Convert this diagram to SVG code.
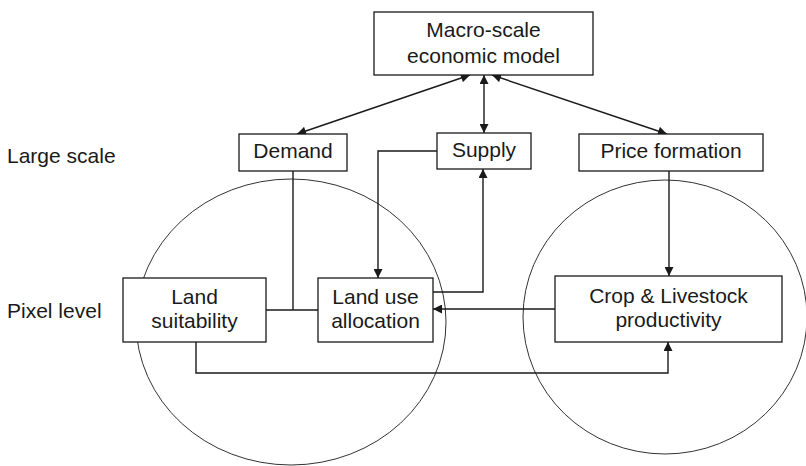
<svg xmlns="http://www.w3.org/2000/svg" width="806" height="466" viewBox="0 0 806 466">
<defs>
<marker id="ah" viewBox="0 0 10 10" refX="10" refY="5" markerWidth="10" markerHeight="9" markerUnits="userSpaceOnUse" orient="auto-start-reverse">
<path d="M0,0 L10,5 L0,10 z" fill="#1a1a1a"/>
</marker>
<style>
.box{fill:#fff;stroke:#1a1a1a;stroke-width:1.3}
.ring{fill:none;stroke:#333;stroke-width:1}
.ln{fill:none;stroke:#1a1a1a;stroke-width:1.4}
text{font-family:"Liberation Sans",Arial,sans-serif;font-size:21px;fill:#1a1a1a}
.c{text-anchor:middle}
</style>
</defs>
<rect width="806" height="466" fill="#fff"/>
<g id="zones">
<ellipse class="ring" cx="291" cy="322" rx="155" ry="143"/>
<ellipse class="ring" cx="665" cy="317" rx="142" ry="137"/>
</g>
<g id="labels">
<text x="7" y="163">Large scale</text>
<text x="7" y="318">Pixel level</text>
</g>
<g id="connectors">
<line class="ln" x1="470" y1="75" x2="297" y2="134" marker-start="url(#ah)" marker-end="url(#ah)"/>
<line class="ln" x1="484" y1="75" x2="484" y2="133" marker-start="url(#ah)" marker-end="url(#ah)"/>
<line class="ln" x1="492" y1="75" x2="667" y2="134" marker-start="url(#ah)" marker-end="url(#ah)"/>
<polyline class="ln" points="437,151 378,151 378,278" marker-end="url(#ah)"/>
<polyline class="ln" points="433,292 483,292 483,169" marker-end="url(#ah)"/>
<line class="ln" x1="293" y1="171" x2="293" y2="310"/>
<line class="ln" x1="266" y1="310" x2="318" y2="310"/>
<line class="ln" x1="555" y1="309" x2="433" y2="309" marker-end="url(#ah)"/>
<polyline class="ln" points="196,342 196,373 668,373 668,342" marker-end="url(#ah)"/>
<line class="ln" x1="669" y1="171" x2="669" y2="276" marker-end="url(#ah)"/>
</g>
<g id="macro">
<rect class="box" x="374" y="12" width="219" height="63"/>
<text class="c" x="483.5" y="37">Macro-scale</text>
<text class="c" x="483.5" y="63">economic model</text>
</g>
<g id="demand">
<rect class="box" x="239" y="134" width="108" height="37"/>
<text class="c" x="293" y="158">Demand</text>
</g>
<g id="supply">
<rect class="box" x="437" y="133" width="94" height="36"/>
<text class="c" x="484" y="157">Supply</text>
</g>
<g id="price">
<rect class="box" x="579" y="134" width="184" height="37"/>
<text class="c" x="671" y="158">Price formation</text>
</g>
<g id="suitability">
<rect class="box" x="123" y="278" width="143" height="64"/>
<text class="c" x="194.5" y="304">Land</text>
<text class="c" x="194.5" y="328">suitability</text>
</g>
<g id="allocation">
<rect class="box" x="318" y="278" width="115" height="64"/>
<text class="c" x="375.5" y="304">Land use</text>
<text class="c" x="375.5" y="328">allocation</text>
</g>
<g id="productivity">
<rect class="box" x="555" y="276" width="227" height="66"/>
<text class="c" x="668.5" y="303">Crop &amp; Livestock</text>
<text class="c" x="668.5" y="327">productivity</text>
</g>
</svg>
